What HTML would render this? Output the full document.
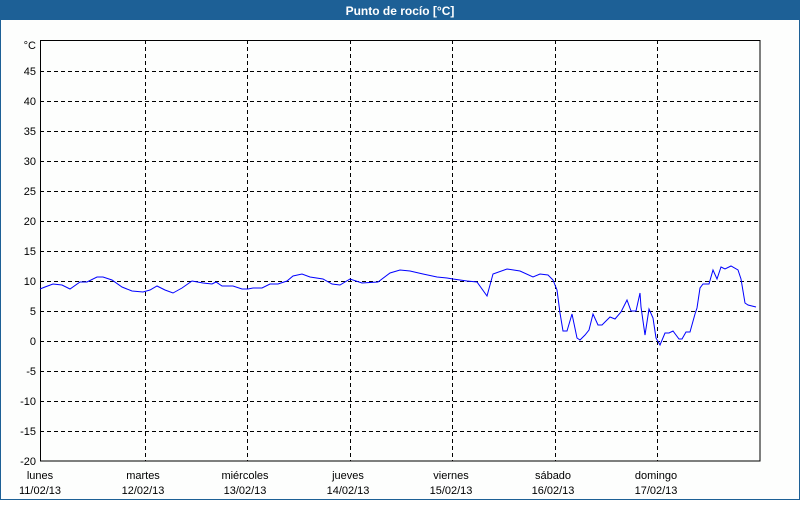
<!DOCTYPE html>
<html><head><meta charset="utf-8"><style>
body{margin:0;width:800px;height:500px;overflow:hidden;background:#fff;font-family:"Liberation Sans",sans-serif}
</style></head><body>
<svg width="800" height="500" xmlns="http://www.w3.org/2000/svg" font-family="Liberation Sans, sans-serif">
<rect x="0" y="0" width="800" height="500" fill="#fdfefd"/>
<rect x="0.5" y="0.5" width="799" height="499" fill="none" stroke="#1d6096"/>
<rect x="0" y="0" width="800" height="20" fill="#1d6096"/>
<text x="400" y="15" fill="#fff" font-size="12" font-weight="bold" text-anchor="middle">Punto de rocío [°C]</text>
<g stroke="#000" stroke-dasharray="4,3" stroke-width="1">
<path d="M40 71.5H760M40 101.5H760M40 131.5H760M40 161.5H760M40 191.5H760M40 221.5H760M40 251.5H760M40 281.5H760M40 311.5H760M40 341.5H760M40 371.5H760M40 401.5H760M40 431.5H760"/>
<path d="M145.5 40V461M247.5 40V461M350.5 40V461M452.5 40V461M555.5 40V461M657.5 40V461"/>
</g>
<rect x="40.5" y="40.5" width="719.5" height="420.5" fill="none" stroke="#000"/>
<g font-size="11" fill="#000" text-anchor="end">
<text x="36" y="49">°C</text>
<text x="36" y="75">45</text><text x="36" y="105">40</text><text x="36" y="135">35</text><text x="36" y="165">30</text><text x="36" y="195">25</text><text x="36" y="225">20</text><text x="36" y="255">15</text><text x="36" y="285">10</text><text x="36" y="315">5</text><text x="36" y="345">0</text><text x="36" y="375">-5</text><text x="36" y="405">-10</text><text x="36" y="435">-15</text><text x="36" y="465">-20</text>
</g>
<g font-size="11" fill="#000" text-anchor="middle">
<text x="40" y="479">lunes</text><text x="40" y="494">11/02/13</text>
<text x="143" y="479">martes</text><text x="143" y="494">12/02/13</text>
<text x="245" y="479">miércoles</text><text x="245" y="494">13/02/13</text>
<text x="348" y="479">jueves</text><text x="348" y="494">14/02/13</text>
<text x="451" y="479">viernes</text><text x="451" y="494">15/02/13</text>
<text x="553" y="479">sábado</text><text x="553" y="494">16/02/13</text>
<text x="656" y="479">domingo</text><text x="656" y="494">17/02/13</text>
</g>
<polyline fill="none" stroke="#0000ff" stroke-width="1" points="40,289 45,287 53,284 62,285 70,289 80,282 87,282 97,277 103,277 112,280 122,287 132,291 143,292 150,290 157,286 165,290 173,293 182,288 192,281 203,283 212,284 216,282 222,286 233,286 242,289 248,289 253,288 262,288 270,284 278,284 287,281 293,276 302,274 310,277 323,279 332,284 340,285 350,279 362,283 378,282 390,273 400,270 410,271 423,274 437,277 447,278 453,279 467,281 477,282 487,296 493,274 507,269 520,271 533,277 540,274 548,275 553,280 557,290 560,313 563,331 567,331 572,314 577,338 580,340 585,335 589,330 593,314 598,325 602,325 610,317 615,319 621,312 627,300 631,311 636,311 640,293 641,307 645,335 649,309 653,318 656,338 660,345 665,333 669,333 673,331 679,339 682,339 686,332 690,332 695,314 697,308 700,288 703,284 709,284 713,270 717,279 721,267 725,269 731,266 738,270 741,279 745,303 748,305 756,307"/>
</svg>
</body></html>
